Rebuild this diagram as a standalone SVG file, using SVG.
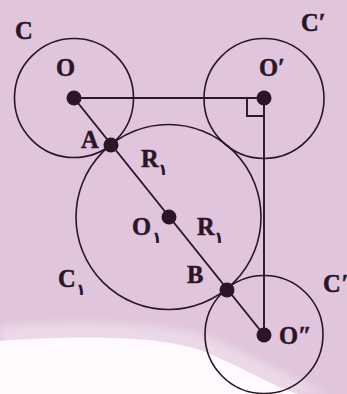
<svg xmlns="http://www.w3.org/2000/svg" width="347" height="394" viewBox="0 0 347 394">
  <defs>
    <filter id="soft" x="-20%" y="-50%" width="140%" height="200%">
      <feGaussianBlur stdDeviation="4"/>
    </filter>
    <style>
      .circ { fill: none; stroke: #2a1628; stroke-width: 1.6; }
      .ln { fill: none; stroke: #2a1628; stroke-width: 1.9; }
      .dot { fill: #2a1628; }
      .lbl { font-family: "Liberation Serif", "Times New Roman", serif; font-weight: bold; font-size: 24.5px; fill: #2a1628; stroke: #2a1628; stroke-width: 0.5; }
      .sub { font-family: "DejaVu Sans", "Noto Sans", sans-serif; font-weight: bold; font-size: 16px; fill: #2a1628; }
    </style>
  </defs>

  <!-- background -->
  <rect x="0" y="0" width="347" height="394" fill="#e0c5dc"/>
  <path d="M0,326 C 80,320 170,322 215,340 C 255,356 290,378 330,394 L 0,394 Z" fill="#ebd9e8" filter="url(#soft)"/>
  <path d="M0,341 C 80,335 165,336 205,352 C 240,366 268,384 298,394 L 0,394 Z" fill="#fefafe"/>

  <!-- connectors -->
  <g id="connectors">
    <line class="ln" x1="74" y1="98" x2="264" y2="98"/>
    <line class="ln" x1="264" y1="98" x2="264" y2="335"/>
    <line class="ln" x1="74" y1="98" x2="264" y2="335"/>
    <polyline class="ln" points="247,98 247,116 264,116"/>
  </g>

  <!-- circles -->
  <g id="circle-C">
    <circle class="circ" cx="74" cy="98" r="59.5"/>
    <text class="lbl" x="15" y="39">C</text>
  </g>
  <g id="circle-C-prime">
    <circle class="circ" cx="264" cy="98.5" r="60"/>
    <text class="lbl" x="301" y="31">C′</text>
  </g>
  <g id="circle-C1">
    <circle class="circ" cx="168.5" cy="217" r="92.5"/>
    <text class="lbl" x="58" y="287">C</text>
    <text class="sub" x="76" y="295">۱</text>
  </g>
  <g id="circle-C-double-prime">
    <circle class="circ" cx="264" cy="334.5" r="59"/>
    <text class="lbl" x="323" y="292">C″</text>
  </g>

  <!-- points -->
  <g id="point-O">
    <circle class="dot" cx="74" cy="98" r="7.5"/>
    <text class="lbl" x="56" y="76">O</text>
  </g>
  <g id="point-O-prime">
    <circle class="dot" cx="264" cy="98" r="7.5"/>
    <text class="lbl" x="259" y="76">O′</text>
  </g>
  <g id="point-O1">
    <circle class="dot" cx="169" cy="217" r="7.5"/>
    <text class="lbl" x="132" y="235">O</text>
    <text class="sub" x="152" y="243">۱</text>
  </g>
  <g id="point-O-double-prime">
    <circle class="dot" cx="264" cy="335" r="7.5"/>
    <text class="lbl" x="279" y="344">O″</text>
  </g>
  <g id="point-A">
    <circle class="dot" cx="111" cy="145" r="7.5"/>
    <text class="lbl" x="81" y="148">A</text>
  </g>
  <g id="point-B">
    <circle class="dot" cx="227" cy="290" r="7.5"/>
    <text class="lbl" x="187" y="283">B</text>
  </g>

  <!-- radius labels -->
  <g id="label-R1-upper">
    <text class="lbl" x="141" y="167">R</text>
    <text class="sub" x="158" y="175">۱</text>
  </g>
  <g id="label-R1-lower">
    <text class="lbl" x="197" y="235">R</text>
    <text class="sub" x="214" y="243">۱</text>
  </g>
</svg>
